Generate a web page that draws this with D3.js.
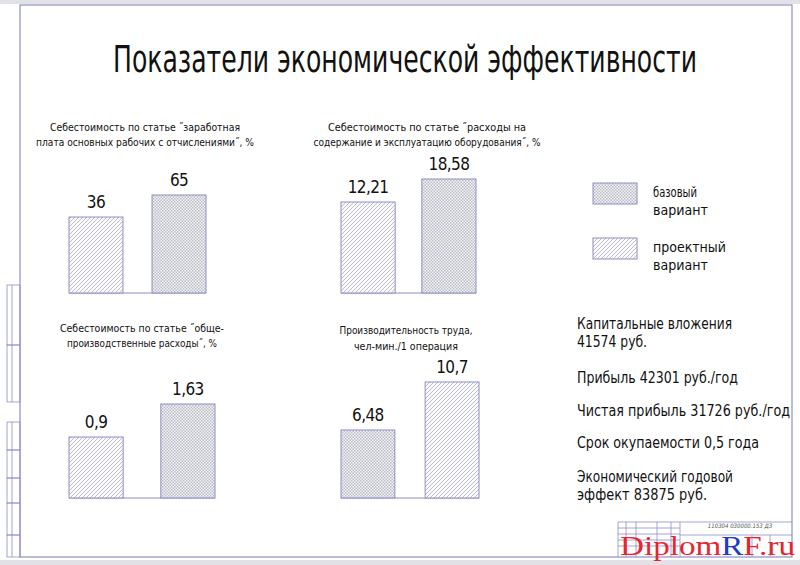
<!DOCTYPE html>
<html>
<head>
<meta charset="utf-8">
<title>Показатели экономической эффективности</title>
<script src="https://d3js.org/d3.v7.min.js"></script>
<style>
  body { margin: 0; background: #fff; }
  text { font-family: "DejaVu Sans Condensed", "Liberation Sans Narrow", "DejaVu Sans", sans-serif; fill: #111; }
</style>
</head>
<body>
<div id="chart"></div>
<script>

// ---- data ----
const mainTitle = "Показатели экономической эффективности";

const chartTitles = [
    ["Себестоимость по статье \u02DDзаработная", "плата основных рабочих с отчислениями\u02DD, %"],
    ["Себестоимость по статье \u02DDрасходы на", "содержание и эксплуатацию оборудования\u02DD, %"],
    ["Себестоимость по статье \u02DDобще-", "производственные расходы\u02DD, %"],
    ["Производительность труда,", "чел-мин./1 операция"]
];
// bars left-to-right in each small chart
const barValues = [[36, 65], [12.21, 18.58], [0.9, 1.63], [6.48, 10.7]];
const barKinds = [
    ["проектный", "базовый"],
    ["проектный", "базовый"],
    ["проектный", "базовый"],
    ["базовый", "проектный"]
];
// the drawing does not start bars at zero; value at which each chart's bars start
const scaleFloor = [-64, -13, -0.45, 0.5];

const legendKinds = ["базовый", "проектный"];
const legendLabels = [["базовый", "вариант"], ["проектный", "вариант"]];

const summaryLines = [
    ["Капитальные вложения", "41574 руб."],
    ["Прибыль 42301 руб./год"],
    ["Чистая прибыль 31726 руб./год"],
    ["Срок окупаемости 0,5 года"],
    ["Экономический годовой", "эффект 83875 руб."]
];
const stampCode = "110304 030000.153 ДЗ";

// ---- layout ----
const W = 800, H = 565;
const lineColor = "#8e8ec6";

// per chart: bar span, baseline, height of tallest bar, inner padding, title centre/baselines/widths
const panels = [
    {x0: 69,  x1: 206, base: 293, hMax: 98,  pad: 0.35, tx: 145, ty: [131, 146], tw: [190, 218]},
    {x0: 341, x1: 476, base: 293, hMax: 114, pad: 0.33, tx: 427, ty: [131, 146], tw: [198, 227]},
    {x0: 69,  x1: 215, base: 498, hMax: 94,  pad: 0.41, tx: 142, ty: [332, 347], tw: [164, 150]},
    {x0: 341, x1: 479, base: 498, hMax: 116, pad: 0.36, tx: 406, ty: [334, 350], tw: [133, 104]}
];

let svg = d3.select("#chart").append("svg")
    .attr("width", W).attr("height", H);

// hatch patterns
let defs = svg.append("defs");
let diag = defs.append("pattern").attr("id", "fill-проектный")
    .attr("patternUnits", "userSpaceOnUse").attr("width", 4).attr("height", 4);
diag.append("rect").attr("width", 4).attr("height", 4).attr("fill", "#fafafc");
diag.append("path").attr("d", "M-1,1 l2,-2 M0,4 l4,-4 M3,5 l2,-2")
    .attr("stroke", "#b0b0bc").attr("stroke-width", 0.8);

let cross = defs.append("pattern").attr("id", "fill-базовый")
    .attr("patternUnits", "userSpaceOnUse").attr("width", 3).attr("height", 3);
cross.append("rect").attr("width", 3).attr("height", 3).attr("fill", "#f4f4f7");
cross.append("rect").attr("width", 1.5).attr("height", 1.5).attr("fill", "#bcbcc8");
cross.append("rect").attr("x", 1.5).attr("y", 1.5).attr("width", 1.5).attr("height", 1.5).attr("fill", "#bcbcc8");

// sheet frame
svg.append("rect").attr("x", 0).attr("y", 0).attr("width", W).attr("height", 4).attr("fill", "#e2e2e6");
svg.append("rect").attr("x", 0).attr("y", 560).attr("width", W).attr("height", 5).attr("fill", "#e2e2e6");
svg.append("rect").attr("x", 20).attr("y", 5).attr("width", 772).attr("height", 552)
    .attr("fill", "none").attr("stroke", lineColor).attr("stroke-width", 1.2);

// left margin strip
let strip = svg.append("g").attr("stroke", lineColor).attr("fill", "none").attr("stroke-width", 0.8);
[[285, 345], [345, 402], [422, 450], [450, 478], [478, 503], [503, 535], [535, 557]].forEach(function(c) {
    strip.append("rect").attr("x", 7).attr("y", c[0]).attr("width", 13).attr("height", c[1] - c[0]);
    strip.append("line").attr("x1", 12).attr("x2", 12).attr("y1", c[0]).attr("y2", c[1]);
});

// title
svg.append("text")
    .attr("x", 113).attr("y", 72)
    .attr("font-size", 37).attr("font-weight", 300)
    .attr("textLength", 584).attr("lengthAdjust", "spacingAndGlyphs")
    .text(mainTitle);

// small bar charts
panels.forEach(function(p, i) {
    let g = svg.append("g");
    let x = d3.scaleBand().domain([0, 1]).range([p.x0, p.x1]).paddingInner(p.pad).paddingOuter(0);
    let y = d3.scaleLinear().domain([scaleFloor[i], d3.max(barValues[i])]).range([p.base, p.base - p.hMax]);

    chartTitles[i].forEach(function(t, k) {
        g.append("text")
            .attr("x", p.tx - p.tw[k] / 2).attr("y", p.ty[k])
            .attr("font-size", 11)
            .attr("textLength", p.tw[k]).attr("lengthAdjust", "spacingAndGlyphs")
            .text(t);
    });

    g.append("line")
        .attr("x1", p.x0).attr("x2", p.x1)
        .attr("y1", p.base).attr("y2", p.base)
        .attr("stroke", lineColor).attr("stroke-width", 1.2);

    g.selectAll("rect.bar")
        .data(barValues[i])
        .enter()
        .append("rect")
        .attr("class", "bar")
        .attr("x", function(d, j) { return x(j); })
        .attr("y", function(d) { return y(d); })
        .attr("width", x.bandwidth())
        .attr("height", function(d) { return p.base - y(d); })
        .attr("fill", function(d, j) { return "url(#fill-" + barKinds[i][j] + ")"; })
        .attr("stroke", lineColor).attr("stroke-width", 1);

    g.selectAll("text.val")
        .data(barValues[i])
        .enter()
        .append("text")
        .attr("class", "val")
        .attr("x", function(d, j) { return x(j) + x.bandwidth() / 2; })
        .attr("y", function(d) { return y(d) - 9; })
        .attr("text-anchor", "middle")
        .attr("font-size", 17)
        .attr("letter-spacing", -0.6)
        .text(function(d) { return String(d).replace(".", ","); });
});

// legend
const legendW = [[44, 55], [73, 55]];
legendKinds.forEach(function(k, i) {
    let y0 = 183 + i * 55;
    svg.append("rect")
        .attr("x", 593).attr("y", y0).attr("width", 44).attr("height", 21)
        .attr("fill", "url(#fill-" + k + ")")
        .attr("stroke", lineColor).attr("stroke-width", 1);
    legendLabels[i].forEach(function(t, j) {
        svg.append("text")
            .attr("x", 653).attr("y", y0 + 14 + j * 18)
            .attr("font-size", 14)
            .attr("textLength", legendW[i][j]).attr("lengthAdjust", "spacingAndGlyphs")
            .text(t);
    });
});

// summary text block
const sumY = [[329, 347], [383], [416], [448], [482, 500]];
const sumW = [[155, 70], [161], [213], [182], [156, 130]];
summaryLines.forEach(function(lines, i) {
    lines.forEach(function(t, j) {
        svg.append("text")
            .attr("x", 577).attr("y", sumY[i][j])
            .attr("font-size", 16)
            .attr("textLength", sumW[i][j]).attr("lengthAdjust", "spacingAndGlyphs")
            .text(t);
    });
});

// title block (stamp) in the corner
let stamp = svg.append("g").attr("stroke", lineColor).attr("stroke-width", 0.8).attr("fill", "none");
stamp.append("line").attr("x1", 618).attr("x2", 792).attr("y1", 522).attr("y2", 522);
[534, 540, 546].forEach(function(yy) {
    stamp.append("line").attr("x1", 618).attr("x2", 680).attr("y1", yy).attr("y2", yy);
});
stamp.append("line").attr("x1", 618).attr("x2", 680).attr("y1", 528).attr("y2", 528);
stamp.append("line").attr("x1", 680).attr("x2", 792).attr("y1", 535).attr("y2", 535);
[618, 626, 636, 657, 671, 680].forEach(function(xx) {
    stamp.append("line").attr("x1", xx).attr("x2", xx).attr("y1", 522).attr("y2", 557);
});
[752, 770].forEach(function(xx) {
    stamp.append("line").attr("x1", xx).attr("x2", xx).attr("y1", 535).attr("y2", 557);
});
svg.append("text")
    .attr("x", 740).attr("y", 528)
    .attr("text-anchor", "middle")
    .attr("font-size", 6).attr("font-style", "italic")
    .style("fill", "#555")
    .text(stampCode);

// watermark
let wm = svg.append("text")
    .attr("x", 620).attr("y", 555)
    .attr("font-size", 28)
    .attr("textLength", 175).attr("lengthAdjust", "spacingAndGlyphs")
    .style("font-family", "'Liberation Serif', 'DejaVu Serif', serif");
wm.append("tspan").style("fill", "#e8242c").text("Diplom");
wm.append("tspan").style("fill", "#1c3cc8").text("R");
wm.append("tspan").style("fill", "#e8242c").text("F.ru");

</script>
</body>
</html>
